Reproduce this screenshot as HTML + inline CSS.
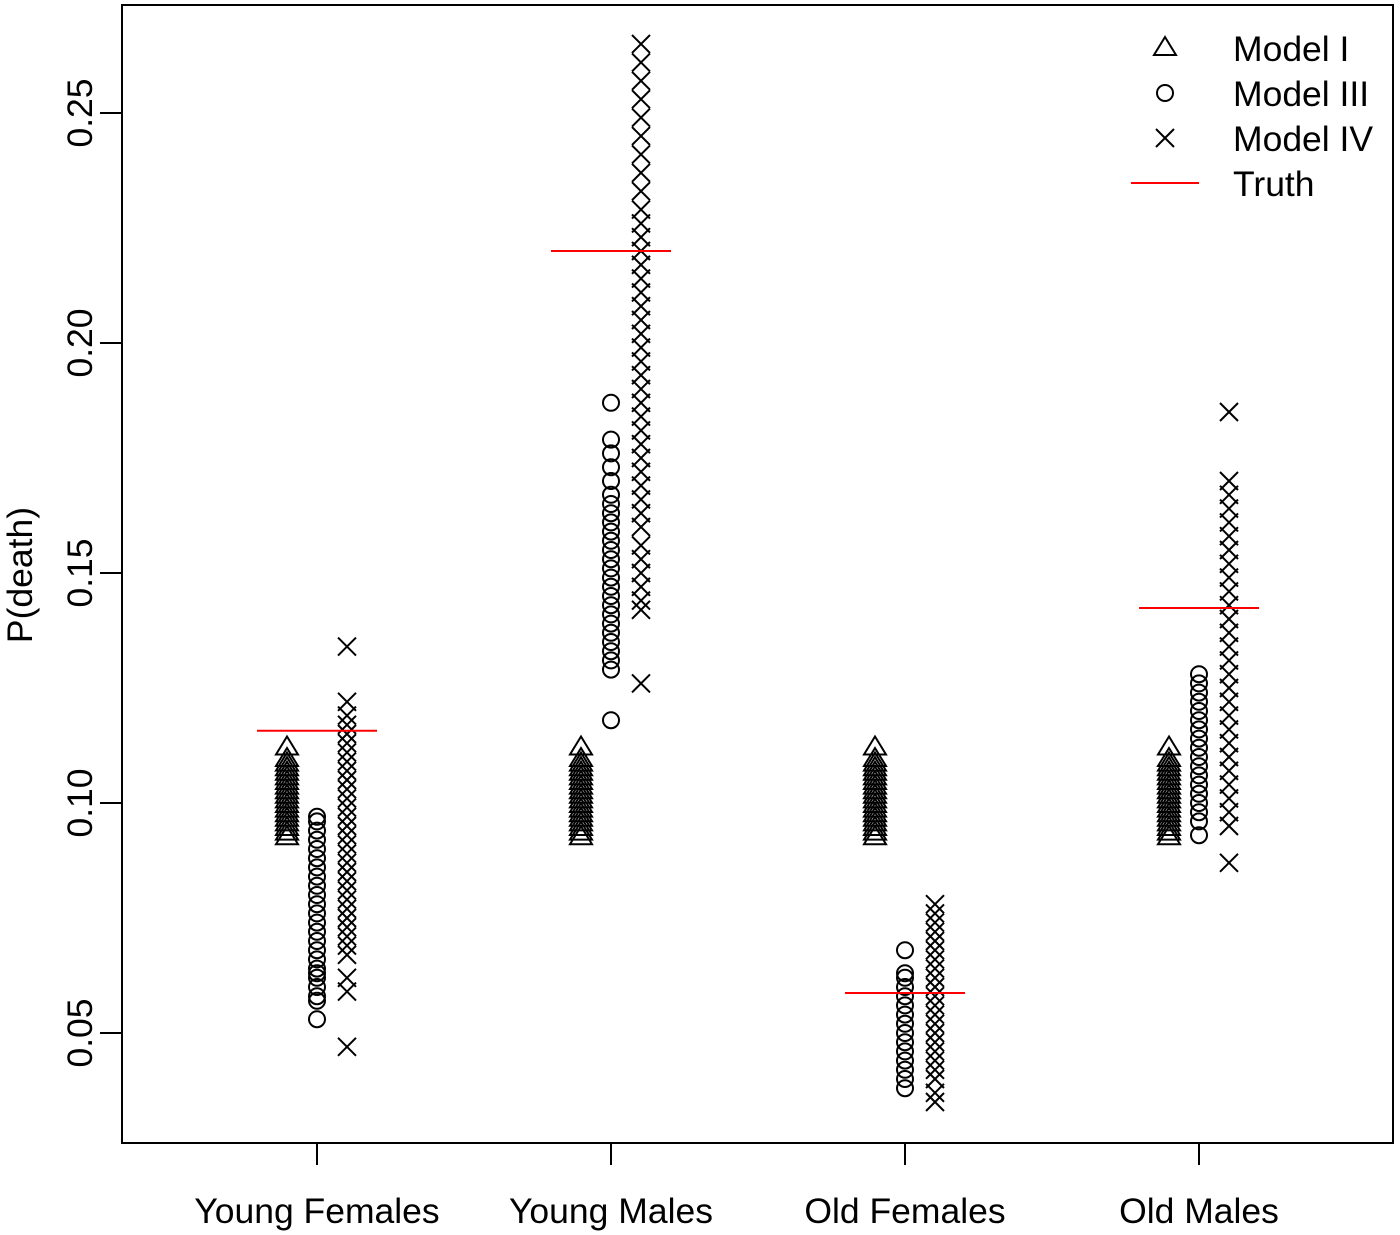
<!DOCTYPE html>
<html><head><meta charset="utf-8"><style>
html,body{margin:0;padding:0;background:#fff;}
svg{display:block;font-family:"Liberation Sans",Arial,sans-serif;}
</style></head><body>
<svg id="chart" width="1400" height="1235" viewBox="0 0 1400 1235">
<rect x="122" y="5" width="1271" height="1138" fill="none" stroke="#000" stroke-width="2"/>
<g id="marks"></g>
<g id="axes"></g>
<g>
<polygon points="1165,37 1176,55 1154,55" fill="none" stroke="#000" stroke-width="2"/>
<text x="1233" y="61" font-size="35.5">Model I</text>
<circle cx="1165" cy="93" r="8" fill="none" stroke="#000" stroke-width="2"/>
<text x="1233" y="106" font-size="35.5">Model III</text>
<path d="M1156,129 L1174,147 M1174,129 L1156,147" stroke="#000" stroke-width="2"/>
<text x="1233" y="151" font-size="35.5">Model IV</text>
<line x1="1131" y1="183" x2="1199" y2="183" stroke="#f00" stroke-width="2"/>
<text x="1233" y="196" font-size="35.5">Truth</text>
</g>
</svg>
<script>
const categories = ["Young Females","Young Males","Old Females","Old Males"];
const yTicks = [0.05,0.10,0.15,0.20,0.25];
const truth = [0.1157,0.2200,0.0587,0.1424];
const modelI = [
 [0.093,0.094,0.095,0.096,0.097,0.098,0.099,0.100,0.101,0.102,0.103,0.104,0.105,0.106,0.107,0.108,0.109,0.110,0.1125],
 [0.093,0.094,0.095,0.096,0.097,0.098,0.099,0.100,0.101,0.102,0.103,0.104,0.105,0.106,0.107,0.108,0.109,0.110,0.1125],
 [0.093,0.094,0.095,0.096,0.097,0.098,0.099,0.100,0.101,0.102,0.103,0.104,0.105,0.106,0.107,0.108,0.109,0.110,0.1125],
 [0.093,0.094,0.095,0.096,0.097,0.098,0.099,0.100,0.101,0.102,0.103,0.104,0.105,0.106,0.107,0.108,0.109,0.110,0.1125]
];
const modelIII = [
 [0.053,0.057,0.058,0.060,0.062,0.063,0.064,0.066,0.068,0.070,0.072,0.074,0.076,0.078,0.080,0.082,0.084,0.086,0.088,0.090,0.092,0.094,0.096,0.097],
 [0.118,0.129,0.131,0.133,0.135,0.137,0.139,0.141,0.143,0.145,0.147,0.149,0.151,0.153,0.155,0.157,0.159,0.161,0.163,0.165,0.167,0.170,0.173,0.176,0.179,0.187],
 [0.038,0.040,0.042,0.044,0.046,0.048,0.050,0.052,0.054,0.056,0.058,0.060,0.062,0.063,0.068],
 [0.093,0.096,0.098,0.100,0.102,0.104,0.106,0.108,0.110,0.112,0.114,0.116,0.118,0.120,0.122,0.124,0.126,0.128]
];
const modelIV = [
 [0.047,0.059,0.062,0.067,0.069,0.071,0.073,0.075,0.077,0.079,0.081,0.083,0.085,0.087,0.089,0.091,0.093,0.095,0.097,0.099,0.101,0.103,0.105,0.107,0.109,0.111,0.113,0.115,0.117,0.119,0.122,0.134],
 [0.126,0.142,0.144,0.147,0.150,0.153,0.156,0.160,0.163,0.166,0.169,0.172,0.175,0.178,0.181,0.184,0.187,0.190,0.193,0.196,0.199,0.202,0.205,0.208,0.211,0.214,0.217,0.220,0.223,0.226,0.229,0.233,0.237,0.241,0.245,0.249,0.253,0.257,0.261,0.265],
 [0.035,0.037,0.040,0.042,0.044,0.046,0.048,0.050,0.052,0.054,0.056,0.058,0.060,0.062,0.064,0.066,0.068,0.070,0.072,0.074,0.076,0.078],
 [0.087,0.095,0.098,0.101,0.104,0.107,0.110,0.113,0.116,0.119,0.122,0.125,0.128,0.131,0.134,0.137,0.140,0.143,0.146,0.149,0.152,0.155,0.158,0.161,0.164,0.167,0.170,0.185]
];
const NS="http://www.w3.org/2000/svg";
const y = v => 803 - (v - 0.10) * 4600;
const x = i => 317 + i * 294;
const marks = document.getElementById('marks');
const axes = document.getElementById('axes');
function mk(tag, attrs, parent){const e=document.createElementNS(NS,tag);for(const k in attrs)e.setAttribute(k,attrs[k]);parent.appendChild(e);return e;}
categories.forEach((c,i)=>{
  modelI[i].forEach(v=>{
    const cx=x(i)-30, cy=y(v);
    const e=mk('polygon',{points:`${cx},${cy-9} ${cx+11},${cy+9} ${cx-11},${cy+9}`,fill:'none',stroke:'#000','stroke-width':2},marks);
    
    
  });
  modelIII[i].forEach(v=>{
    const e=mk('circle',{cx:x(i),cy:y(v),r:8,fill:'none',stroke:'#000','stroke-width':2},marks);
    
    
  });
  modelIV[i].forEach(v=>{
    const cx=x(i)+30, cy=y(v);
    const e=mk('path',{d:`M${cx-9},${cy-9} L${cx+9},${cy+9} M${cx+9},${cy-9} L${cx-9},${cy+9}`,stroke:'#000','stroke-width':2},marks);
    
    
  });
  const t=mk('line',{x1:x(i)-60,x2:x(i)+60,y1:y(truth[i]),y2:y(truth[i]),stroke:'#f00','stroke-width':2},marks);
  
  
  const tk=mk('line',{x1:x(i),x2:x(i),y1:1143,y2:1165,stroke:'#000','stroke-width':2},axes);
  
  
  const lb=mk('text',{x:x(i),y:1223,'font-size':35.5,'text-anchor':'middle'},axes);
  lb.textContent=c;
  
  
});
yTicks.forEach(v=>{
  const tk=mk('line',{x1:100,x2:122,y1:y(v),y2:y(v),stroke:'#000','stroke-width':2},axes);
  
  
  const lb=mk('text',{x:92,y:y(v),'font-size':35.5,'text-anchor':'middle',transform:`rotate(-90 92 ${y(v)})`},axes);
  lb.textContent=v.toFixed(2);
  
  
});
const yl=mk('text',{x:32,y:575,'font-size':35.5,'text-anchor':'middle',transform:'rotate(-90 32 575)'},axes);
yl.textContent='P(death)';


</script>
</body></html>
